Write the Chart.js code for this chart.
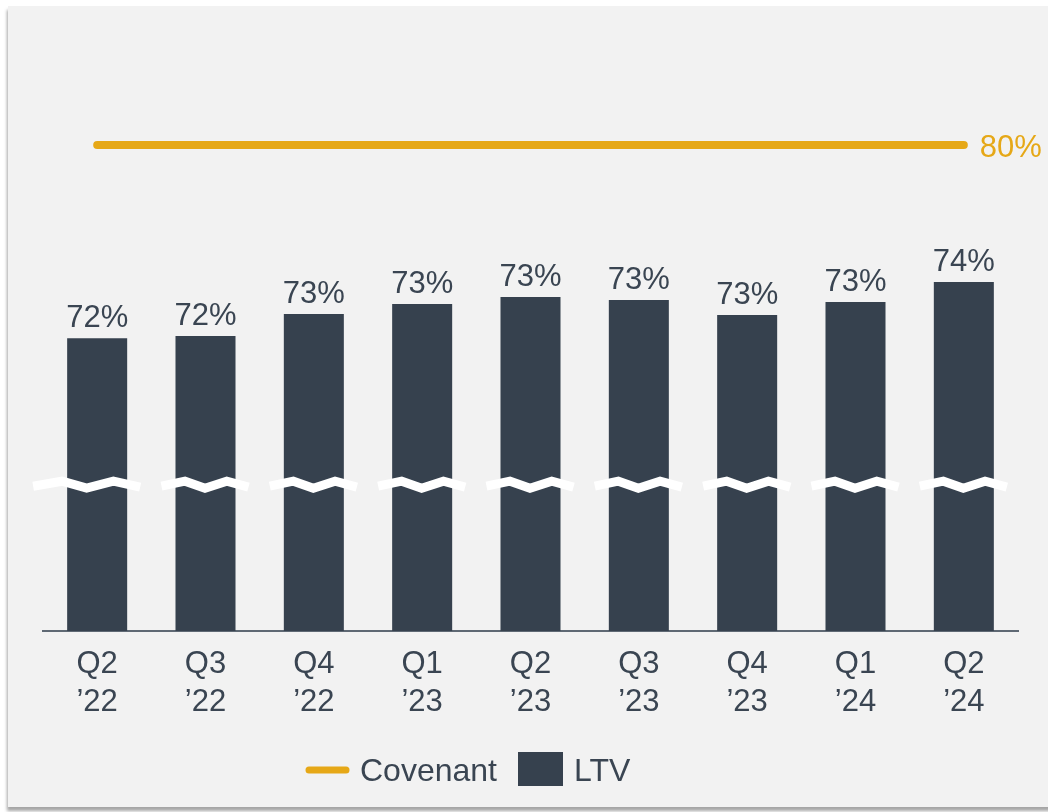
<!DOCTYPE html>
<html>
<head>
<meta charset="utf-8">
<script src="https://cdn.jsdelivr.net/npm/chart.js@4"></script>
<style>
  html, body { margin: 0; padding: 0; background: #ffffff; width: 1048px; height: 812px; overflow: hidden; }
  #panel { position: absolute; left: 8px; top: 6px; width: 1060px; height: 801px; background: #f2f2f2;
           box-shadow: -1px 4px 3px rgba(0,0,0,0.35); }
  #wrap { position: absolute; left: 0; top: 0; width: 1048px; height: 812px; }
</style>
</head>
<body>
<div id="panel"></div>
<div id="wrap"><canvas id="c" width="1048" height="812"></canvas></div>
<script>
const categories = [["Q2","\u201922"],["Q3","\u201922"],["Q4","\u201922"],["Q1","\u201923"],["Q2","\u201923"],["Q3","\u201923"],["Q4","\u201923"],["Q1","\u201924"],["Q2","\u201924"]];
const ltvValues = [72.05, 72.14, 73.05, 73.46, 73.74, 73.62, 73.0, 73.54, 74.36];
const ltvLabels = ["72%","72%","73%","73%","73%","73%","73%","73%","74%"];
const covenantValues = [80, 80, 80, 80, 80, 80, 80, 80, 80];
const covenantLabel = "80%";
const axisMin = 60;
const axisMax = 80;
const breakValue = 66;

const BAR = '#36414e';
const GOLD = '#e6a817';
const TEXT = '#3a4552';
const FONT = '"Liberation Sans", Arial, sans-serif';

const decorations = {
  id: 'decorations',
  afterDatasetsDraw(chart) {
    const ctx = chart.ctx;
    const y = chart.scales.y;
    const barMeta = chart.getDatasetMeta(1);
    const lineMeta = chart.getDatasetMeta(0);
    ctx.save();
    // axis breaks
    const by = y.getPixelForValue(breakValue);
    barMeta.data.forEach((bar, i) => {
      const half = bar.width / 2;
      const x0 = bar.x - half - (i === 0 ? 34 : 14);
      const x1 = bar.x + half + 13;
      const w = x1 - x0;
      ctx.beginPath();
      ctx.moveTo(x0, by + 1);
      ctx.lineTo(x0 + w * 0.27, by - 4);
      ctx.lineTo(x0 + w * 0.5, by + 3);
      ctx.lineTo(x0 + w * 0.75, by - 4);
      ctx.lineTo(x1, by + 2);
      ctx.strokeStyle = '#ffffff';
      ctx.lineWidth = 9;
      ctx.lineJoin = 'miter';
      ctx.stroke();
    });
    // bar value labels
    ctx.fillStyle = TEXT;
    ctx.font = '31px ' + FONT;
    ctx.textAlign = 'center';
    ctx.textBaseline = 'alphabetic';
    barMeta.data.forEach((bar, i) => {
      ctx.fillText(ltvLabels[i], bar.x, bar.y - 11);
    });
    // covenant label
    const last = lineMeta.data[lineMeta.data.length - 1];
    ctx.fillStyle = GOLD;
    ctx.textAlign = 'left';
    ctx.textBaseline = 'middle';
    ctx.fillText(covenantLabel, last.x + 16, last.y + 3);
    // legend
    const ds = chart.data.datasets;
    const ly = 770;
    ctx.font = '32px ' + FONT;
    ctx.strokeStyle = GOLD;
    ctx.lineWidth = 7;
    ctx.lineCap = 'round';
    ctx.beginPath();
    ctx.moveTo(309, ly);
    ctx.lineTo(346, ly);
    ctx.stroke();
    ctx.fillStyle = TEXT;
    ctx.textBaseline = 'middle';
    ctx.fillText(ds[0].label, 360, ly + 2);
    ctx.fillStyle = BAR;
    ctx.fillRect(518, 752, 45, 34);
    ctx.fillStyle = TEXT;
    ctx.fillText(ds[1].label, 574, ly + 2);
    ctx.restore();
  }
};

new Chart(document.getElementById('c'), {
  type: 'bar',
  data: {
    labels: categories,
    datasets: [
      {
        type: 'line',
        label: 'Covenant',
        data: covenantValues,
        borderColor: GOLD,
        borderWidth: 8,
        borderCapStyle: 'round',
        pointRadius: 0,
        fill: false,
        clip: false,
        order: 0
      },
      {
        type: 'bar',
        label: 'LTV',
        data: ltvValues,
        backgroundColor: BAR,
        borderWidth: 0,
        barPercentage: 0.554,
        categoryPercentage: 1.0,
        order: 1
      }
    ]
  },
  options: {
    responsive: false,
    animation: false,
    layout: { padding: { left: 43, right: 30, top: 145, bottom: 85 } },
    plugins: { legend: { display: false }, tooltip: { enabled: false } },
    scales: {
      x: {
        grid: { display: false },
        border: { display: true, color: '#5f6974', width: 2 },
        ticks: {
          color: TEXT,
          font: { family: FONT, size: 31, lineHeight: 1.226 },
          padding: 6,
          maxRotation: 0,
          autoSkip: false
        }
      },
      y: {
        display: false,
        min: axisMin,
        max: axisMax
      }
    }
  },
  plugins: [decorations]
});
</script>
</body>
</html>
